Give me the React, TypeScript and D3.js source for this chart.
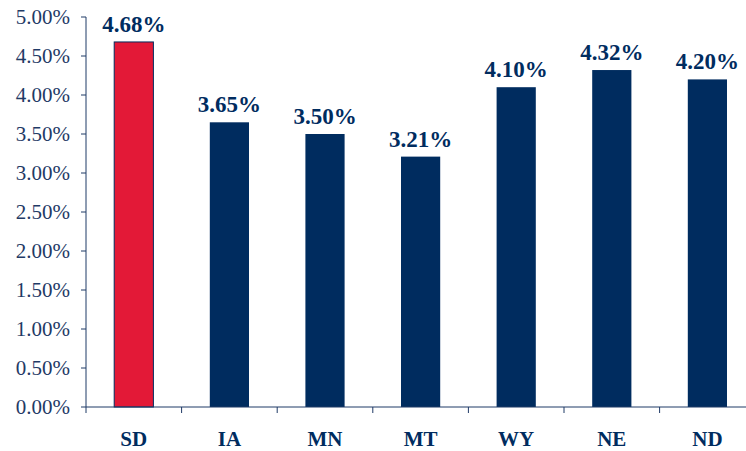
import React from 'react';
import * as d3 from 'd3';

const states = ['SD', 'IA', 'MN', 'MT', 'WY', 'NE', 'ND'];
const rates = [4.68, 3.65, 3.5, 3.21, 4.1, 4.32, 4.2];
const yTicks = [0, 0.5, 1, 1.5, 2, 2.5, 3, 3.5, 4, 4.5, 5];

const width = 746;
const height = 451;
const left = 86;
const top = 17;
const bottom = 407;
const navy = '#002c5f';
const red = '#e31937';
const axisColor = '#1f3a66';

const App = () => {
  const x = d3.scaleBand().domain(states).range([left, left + 95.6 * states.length]).paddingInner(0.59).paddingOuter(0.295);
  const y = d3.scaleLinear().domain([0, 5]).range([bottom, top]);
  const step = x.step();

  return (
    <svg width={width} height={height} style={{ position: 'absolute', left: 0, top: 0, background: '#fff' }}
      fontFamily="'Liberation Serif', 'Times New Roman', serif">
      {rates.map((v, i) => (
        <rect key={states[i]} x={x(states[i])} y={y(v)} width={x.bandwidth()} height={bottom - y(v)}
          fill={i === 0 ? red : navy} stroke={i === 0 ? navy : 'none'} strokeWidth={1} />
      ))}
      <line x1={left} x2={left} y1={top} y2={bottom} stroke={axisColor} />
      <line x1={left} x2={width} y1={bottom} y2={bottom} stroke={axisColor} />
      {yTicks.map(t => (
        <g key={t}>
          <line x1={left - 5} x2={left} y1={y(t)} y2={y(t)} stroke={axisColor} />
          <text x={70} y={y(t)} dy="0.35em" textAnchor="end" fontSize={21} fill={axisColor}>
            {t.toFixed(2)}%
          </text>
        </g>
      ))}
      {states.map((s, i) => (
        <line key={s} x1={left + step * i} x2={left + step * i} y1={bottom} y2={bottom + 6} stroke={axisColor} />
      ))}
      {states.map(s => (
        <text key={s} x={(x(s) as number) + x.bandwidth() / 2} y={446} textAnchor="middle"
          fontSize={21} fontWeight="bold" fill={navy}>{s}</text>
      ))}
      {rates.map((v, i) => (
        <text key={states[i]} x={(x(states[i]) as number) + x.bandwidth() / 2} y={y(v) - 10}
          textAnchor="middle" fontSize={23} fontWeight="bold" fill={navy}>{v.toFixed(2)}%</text>
      ))}
    </svg>
  );
};

export default App;
